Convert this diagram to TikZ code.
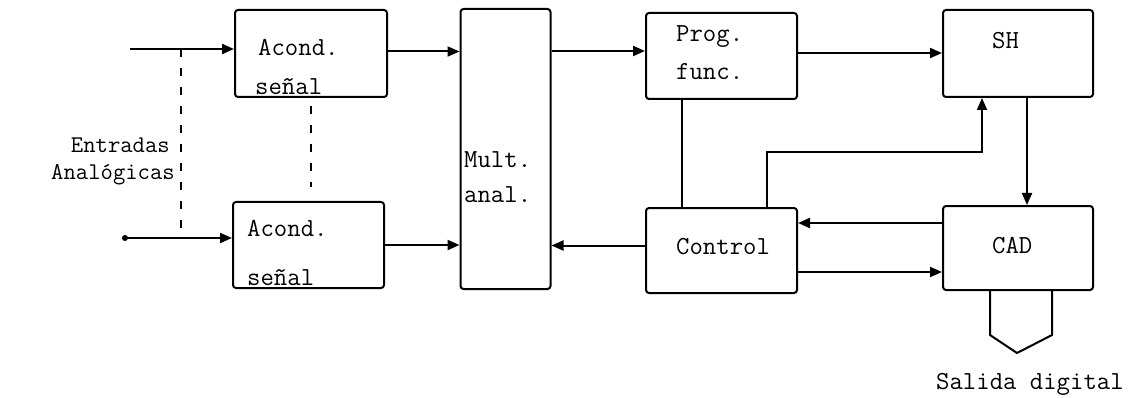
\documentclass[tikz,border=0pt]{standalone}
\usepackage{fontspec}
\usetikzlibrary{arrows.meta}

\begin{document}
\begin{tikzpicture}[x=1pt,y=-1pt,blk/.style={rectangle,rounded corners=3pt,draw,line width=2pt,fill=white,inner sep=0pt},sig/.style={line width=2pt,-{Triangle[length=12pt,width=10pt]}},wire/.style={line width=2pt},tap/.style={line width=2.2pt,dash pattern=on 8pt off 11pt},lbl/.style={font=\fontsize{26}{29}\selectfont\ttfamily,inner sep=0pt}]
\useasboundingbox (0,0) rectangle (1137,398);
\coordinate (inA) at (130,49);
\coordinate (inB) at (125,238);
\coordinate (tapA) at (181,49);
\coordinate (tapB) at (181,238);
\coordinate (jn) at (982,152);
\coordinate (busL) at (990,335);
\coordinate (busT) at (1017,353);
\coordinate (busR) at (1052,335);
\node[blk,minimum width=152pt,minimum height=87pt] (acA) at (311,53.5) {};
\node[blk,minimum width=151pt,minimum height=86pt] (acB) at (308.5,245) {};
\node[blk,minimum width=90pt,minimum height=280pt] (mult) at (505.5,149) {};
\node[blk,minimum width=151pt,minimum height=86pt] (prog) at (721.5,56) {};
\node[blk,minimum width=151pt,minimum height=85pt] (ctrl) at (721.5,250.5) {};
\node[blk,minimum width=150pt,minimum height=87pt] (sh) at (1018,53.5) {};
\node[blk,minimum width=150pt,minimum height=84pt] (cad) at (1018,248) {};
\draw[sig] (inA) -- (inA -| acA.west);
\draw[sig] (inB) -- (inB -| acB.west);
\fill (inB) circle (3pt);
\draw[tap] (tapA) -- (tapB);
\draw[tap] ([yshift=-8pt]acA.south) -- ([yshift=14pt]acA.south |- acB.north);
\draw[sig] ([yshift=2pt]acA.east) -- ([yshift=2pt]acA.east -| mult.west);
\draw[sig] (acB.east) -- (acB.east -| mult.west);
\draw[sig] ([yshift=5pt]prog.west -| mult.east) -- ([yshift=5pt]prog.west);
\draw[sig] ([yshift=3pt]prog.east) -- ([yshift=3pt]prog.east -| sh.west);
\draw[wire] ([xshift=-40pt]prog.south) -- ([xshift=-40pt]ctrl.north);
\draw[sig] ([xshift=45.5pt]ctrl.north) |- (jn) -- (jn |- sh.south);
\draw[sig] ([xshift=9pt]sh.south) -- ([xshift=9pt]cad.north);
\draw[sig] ([yshift=25pt]cad.west) -- ([yshift=25pt]cad.west -| ctrl.east);
\draw[sig] ([yshift=-24pt]cad.west -| ctrl.east) -- ([yshift=-24pt]cad.west);
\draw[sig] ([yshift=5pt]ctrl.west) -- ([yshift=5pt]ctrl.west -| mult.east);
\draw[wire] (busL |- cad.south) -- (busL) -- (busT) -- (busR) -- (busR |- cad.south);
\node[lbl,font=\fontsize{24}{27}\selectfont\ttfamily,anchor=base east] (inTxtA) at (170,153) {Entradas};
\node[lbl,font=\fontsize{24}{27}\selectfont\ttfamily,anchor=base east] (inTxtB) at (175,179) {Analógicas};
\node[lbl,anchor=base west] (acTxtA) at (258,56) {Acond.};
\node[lbl,anchor=base west] (acTxtB) at (255,95) {señal};
\node[lbl,anchor=base west] (acTxtC) at (247,236) {Acond.};
\node[lbl,anchor=base west] (acTxtD) at (247,285) {señal};
\node[lbl,anchor=base west] (multTxtA) at (464,168) {Mult.};
\node[lbl,anchor=base west] (multTxtB) at (464,203) {anal.};
\node[lbl,anchor=base west] (progTxtA) at (676,42) {Prog.};
\node[lbl,anchor=base west] (progTxtB) at (676,80) {func.};
\node[lbl,anchor=base west] (ctrlTxt) at (676,254) {Control};
\node[lbl,anchor=base west] (shTxt) at (992,49) {SH};
\node[lbl,anchor=base west] (cadTxt) at (992,253) {CAD};
\node[lbl,anchor=base west] (outTxt) at (936,389) {Salida digital};
\end{tikzpicture}
\end{document}
